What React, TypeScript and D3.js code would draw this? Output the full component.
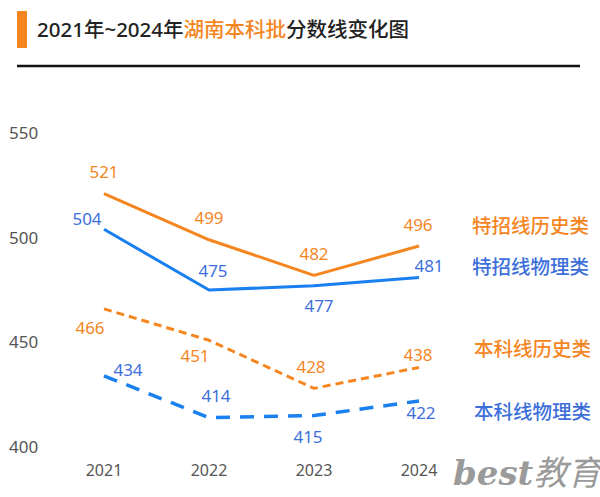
import React from "react";
import * as d3 from "d3";

const years = ["2021", "2022", "2023", "2024"];
const yTicks = [400, 450, 500, 550];
const tzHistory = [521, 499, 482, 496];
const tzPhysics = [504, 475, 477, 481];
const bkHistory = [466, 451, 428, 438];
const bkPhysics = [434, 414, 415, 422];
const seriesNames = ["特招线历史类", "特招线物理类", "本科线历史类", "本科线物理类"];

const ORANGE = "#F5861F";
const BLUE = "#1A7FEF";
const BLUE_TEXT = "#3D6FDB";

// label offsets (dx, dy from point) — styling only
const offsets: [number, number][][] = [
  [[0, -22], [0, -22], [0, -21], [-1, -21]],
  [[-17, -10], [4, -19], [5, 20], [10, -11]],
  [[-14, 19], [-14, 16], [-3, -21], [-1, -12]],
  [[24, -6], [7, -22], [-6, 21], [2, 12]],
];

const legendY = [226, 267, 349, 412];

export default function App() {
  const W = 600, H = 497;
  const x = d3.scalePoint<string>().domain(years).range([104, 419]);
  const y = d3.scaleLinear().domain([400, 550]).range([447, 133]);
  const series = [
    { values: tzHistory, color: ORANGE, text: ORANGE, dash: null as string | null, width: 3 },
    { values: tzPhysics, color: BLUE, text: BLUE_TEXT, dash: null, width: 3 },
    { values: bkHistory, color: ORANGE, text: ORANGE, dash: "8,5", width: 3 },
    { values: bkPhysics, color: BLUE, text: BLUE_TEXT, dash: "14,10", width: 3.5 },
  ];
  const line = d3
    .line<number>()
    .x((_, i) => x(years[i]) as number)
    .y((d) => y(d))
    .curve(d3.curveLinear);
  const font = "'Noto Sans', 'Noto Sans CJK SC', sans-serif";
  return (
    <svg
      width={W}
      height={H}
      style={{ position: "absolute", left: 0, top: 0, background: "#fff" }}
      fontFamily={font}
    >
      <rect x={0} y={0} width={W} height={H} fill="#fff" />
      <rect x={17} y={11} width={10} height={37} fill={ORANGE} />
      <text x={37} y={37} fontSize={20.5} fontWeight={500} fill="#222">
        2021年~2024年<tspan fill={ORANGE}>湖南本科批</tspan>分数线变化图
      </text>
      <line x1={17} x2={580} y1={66} y2={66} stroke="#111" strokeWidth={2.5} />
      {yTicks.map((t) => (
        <text key={t} x={9} y={y(t) + 6} fontSize={17} fill="#555">
          {t}
        </text>
      ))}
      {years.map((yr) => (
        <text key={yr} x={x(yr)} y={476} fontSize={16} fill="#555" textAnchor="middle">
          {yr}
        </text>
      ))}
      {series.map((s, si) => (
        <g key={si}>
          <path
            d={line(s.values) || ""}
            fill="none"
            stroke={s.color}
            strokeWidth={s.width}
            strokeDasharray={s.dash || undefined}
            strokeLinejoin="round"
          />
          {s.values.map((v, i) => (
            <text
              key={i}
              x={(x(years[i]) as number) + offsets[si][i][0]}
              y={y(v) + offsets[si][i][1] + 6}
              fontSize={17}
              fill={s.text}
              textAnchor="middle"
            >
              {v}
            </text>
          ))}
          <text
            x={si < 2 ? 472 : 474}
            y={legendY[si] + 7}
            fontSize={19.5}
            fontWeight={500}
            fill={s.text}
          >
            {seriesNames[si]}
          </text>
        </g>
      ))}
      <text
        x={453}
        y={485}
        fontSize={34}
        fontStyle="italic"
        fontWeight="bold"
        fill="#9a9a9a"
        fontFamily="'DejaVu Serif', serif"
      >
        best
        <tspan fontFamily="'Noto Sans CJK SC', serif" fontWeight={400}>教育</tspan>
      </text>
    </svg>
  );
}
